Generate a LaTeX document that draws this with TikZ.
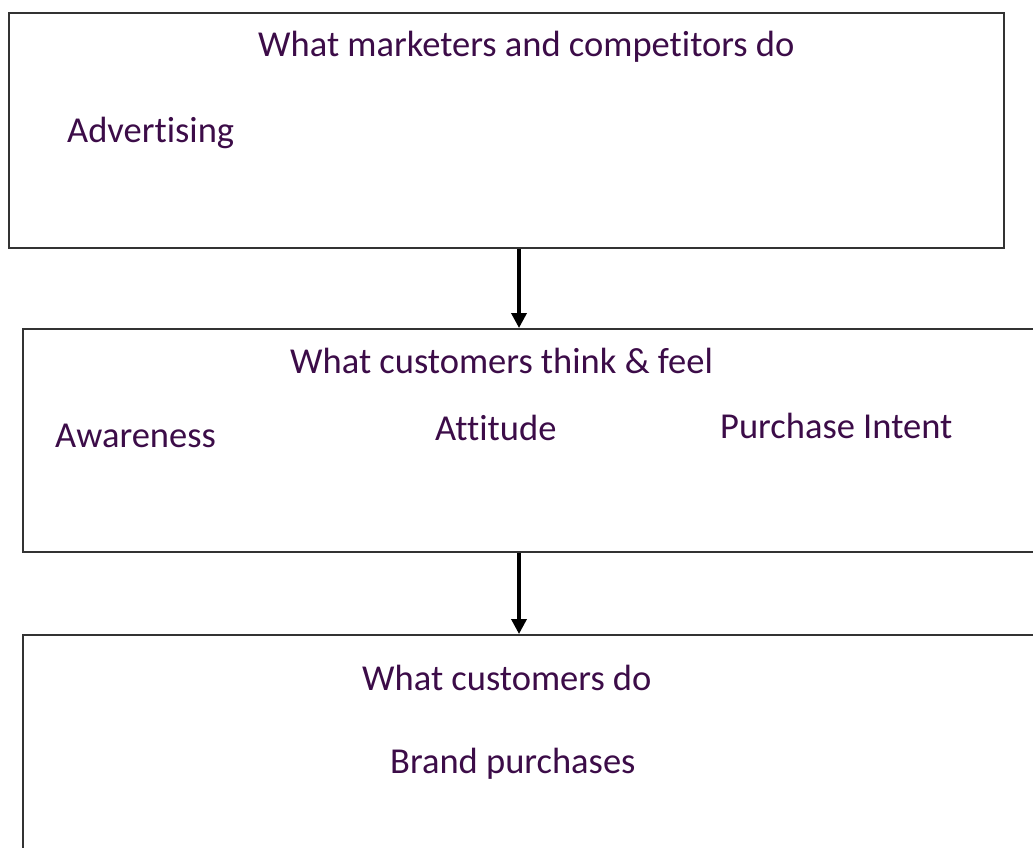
\documentclass[tikz,border=0pt]{standalone}
\usepackage{fontspec}
\setmainfont{Carlito}[Ligatures=NoCommon]
\usepackage{tikz}
\usetikzlibrary{
    arrows.meta,
    positioning
}
\definecolor{textplum}{RGB}{60,12,72}
\tikzset{
    panel/.style = {
        rectangle,
        draw=black!80,
        line width=2pt,
        anchor=north west,
        inner sep=0pt
    },
    boxtext/.style = {
        anchor=base west,
        inner sep=0pt,
        text=textplum,
        font=\fontsize{36.5}{44}\selectfont
    },
    arrow/.style = {
        -{Triangle[width=15pt,length=15pt]},
        line width=3.5pt
    }
}

\begin{document}
\begin{tikzpicture}[x=1pt, y=-1pt]
\useasboundingbox (0,0) rectangle (1033,847);
\clip (0,0) rectangle (1033,847);

% the three stages
\node[panel, minimum width=995pt, minimum height=235pt] (market) at (8,12) {};
\node[panel, minimum width=1030pt, minimum height=223pt] (think) at (22,328) {};
\node[panel, minimum width=1030pt, minimum height=240pt] (act) at (22,634) {};

% texts inside the stages
\node[boxtext] (marketTitle) at (258,56) {What marketers and competitors do};
\node[boxtext] (advertising) at (67,142) {Advertising};

\node[boxtext] (thinkTitle) at (290,373) {What customers think \& feel};
\node[boxtext] (awareness) at (55,447) {Awareness};
\node[boxtext] (attitude) at (435,440) {Attitude};
\node[boxtext] (intent) at (720,438) {Purchase Intent};

\node[boxtext] (actTitle) at (362,690) {What customers do};
\node[boxtext] (purchases) at (390,773) {Brand purchases};

% arrows between stages
\coordinate (spine) at (519,0);
\draw[arrow] (market.south -| spine) -- (think.north -| spine);
\draw[arrow] (think.south -| spine) -- (act.north -| spine);
\end{tikzpicture}
\end{document}
